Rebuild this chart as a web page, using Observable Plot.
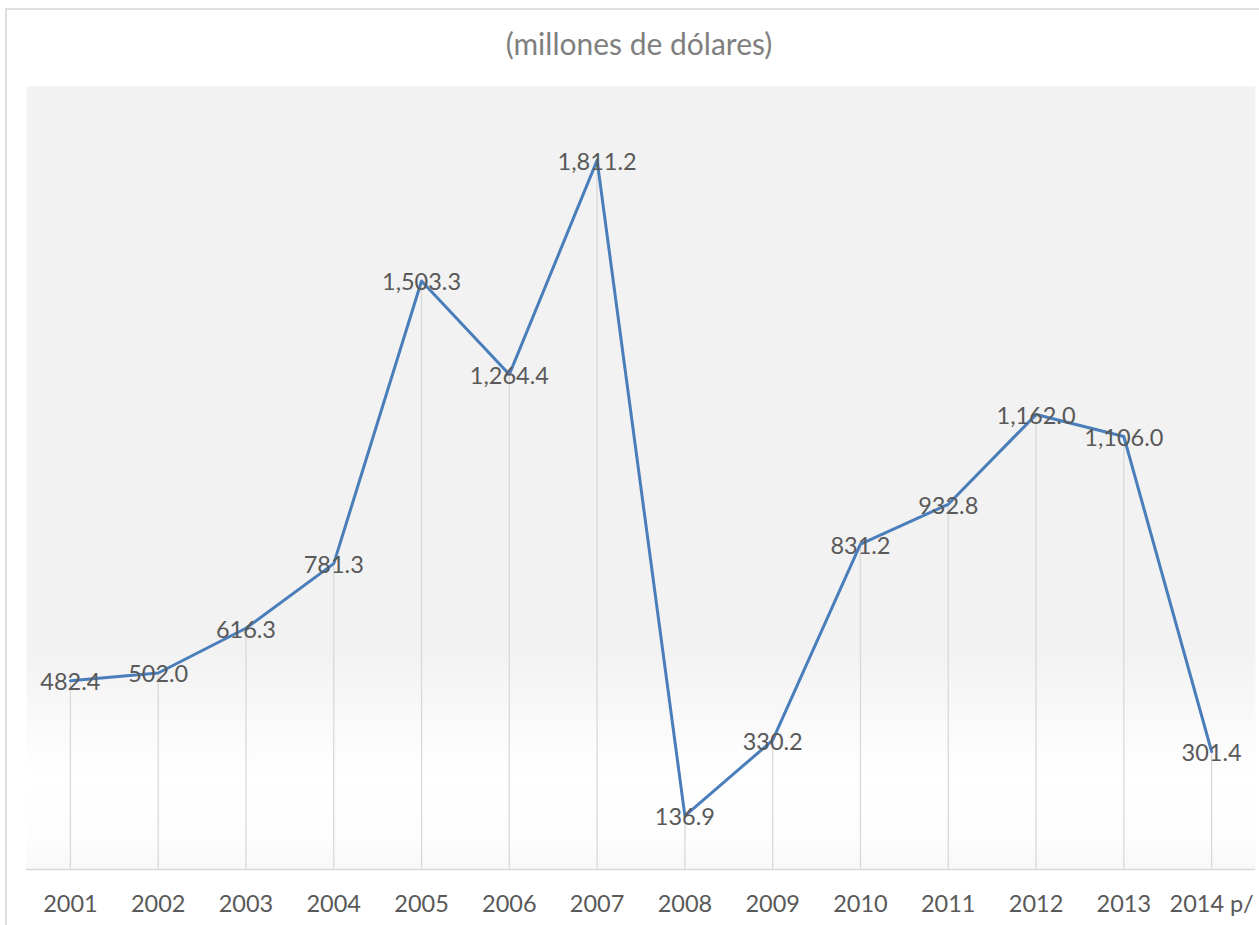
<!DOCTYPE html>
<html>
<head>
<meta charset="utf-8">
<script src="https://cdn.jsdelivr.net/npm/d3@7"></script>
<script src="https://cdn.jsdelivr.net/npm/@observablehq/plot@0.6"></script>
<style>
  html, body { margin: 0; padding: 0; background: #fff; }
  #wrap { position: relative; width: 1259px; height: 925px; overflow: hidden; font-family: Lato, "Open Sans", sans-serif; }
  #frame { position: absolute; left: 5px; top: 8px; width: 1270px; height: 940px; border: 2px solid #dedede; box-sizing: border-box; }
  #title { position: absolute; left: 0; width: 1278px; top: 28px; text-align: center; font-size: 30px; line-height: 30px; color: #7f7f7f; }
  #chart { position: absolute; left: 0; top: 0; }
</style>
</head>
<body>
<div id="wrap">
  <div id="frame"></div>
  <div id="title">(millones de dólares)</div>
  <div id="chart"></div>
</div>
<script>
const years = ["2001","2002","2003","2004","2005","2006","2007","2008","2009","2010","2011","2012","2013","2014 p/"];
const values = [482.4, 502.0, 616.3, 781.3, 1503.3, 1264.4, 1811.2, 136.9, 330.2, 831.2, 932.8, 1162.0, 1106.0, 301.4];
const data = years.map((y, i) => ({year: y, value: values[i]}));
const fmt = d3.format(",.1f");

const plot = Plot.plot({
  width: 1259,
  height: 925,
  marginTop: 86,
  marginLeft: 26,
  marginRight: 4,
  marginBottom: 56,
  style: {fontFamily: "Lato, 'Open Sans', sans-serif", background: "transparent", overflow: "visible"},
  x: {type: "point", domain: years, padding: 0.5, round: false, label: null},
  y: {domain: [0, 2000], axis: null},
  marks: [
    Plot.frame({fill: "url(#bggrad)", stroke: "none"}),
    Plot.ruleX(data, {x: "year", y1: 0, y2: "value", stroke: "#d9d9d9", strokeWidth: 1.3}),
    Plot.ruleY([0], {stroke: "#d9d9d9", strokeWidth: 1.5}),
    Plot.line(data, {x: "year", y: "value", stroke: "#4a7ebb", strokeWidth: 3}),
    Plot.text(data, {x: "year", y: "value", text: d => fmt(d.value), fontSize: 23.5, fill: "#595959", dy: 2}),
    Plot.axisX({tickSize: 0, tickPadding: 26, fontSize: 23.5, color: "#595959", label: null})
  ]
});

const svg = d3.select(plot);
const defs = svg.insert("defs", ":first-child");
const g = defs.append("linearGradient").attr("id", "bggrad").attr("x1", 0).attr("y1", 0).attr("x2", 0).attr("y2", 1);
g.append("stop").attr("offset", "0%").attr("stop-color", "#f2f2f2");
g.append("stop").attr("offset", "72%").attr("stop-color", "#f2f2f2");
g.append("stop").attr("offset", "88%").attr("stop-color", "#ffffff");
g.append("stop").attr("offset", "96%").attr("stop-color", "#fdfdfd");
g.append("stop").attr("offset", "100%").attr("stop-color", "#f8f8f8");
document.getElementById("chart").appendChild(plot);
</script>
</body>
</html>
